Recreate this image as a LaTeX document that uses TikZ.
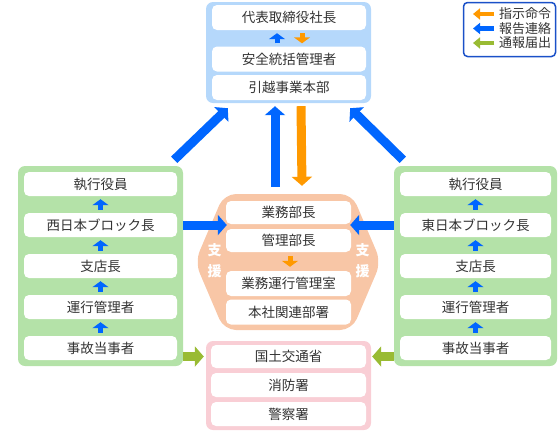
\documentclass[tikz,border=0pt]{standalone}
\usepackage{fontspec}
\setmainfont{Noto Sans CJK JP}
\usetikzlibrary{arrows.meta}
\definecolor{txt}{HTML}{333333}
\definecolor{barBlue}{HTML}{0066FF}
\definecolor{barOrange}{HTML}{FF9900}
\definecolor{barGreen}{HTML}{99BB33}
\definecolor{boxBlue}{HTML}{B5D8FB}
\definecolor{boxGreen}{HTML}{B4E2A8}
\definecolor{boxSalmon}{HTML}{F8C6A6}
\definecolor{boxPink}{HTML}{F9CED5}
\definecolor{legendBorder}{HTML}{1A50C8}
\tikzset{
  inbox/.style={fill=white, rounded corners=5pt, text=txt, inner sep=0pt,
    font=\fontsize{13.5}{15}\selectfont, minimum height=24pt},
  grp/.style={rounded corners=7pt, inner sep=0pt},
  smallarr/.style={line width=5pt, -{Triangle[width=16pt,length=6pt]}},
  bigarr/.style={line width=9pt, -{Triangle[width=20pt,length=9pt]}},
  legarr/.style={line width=4.5pt, -{Triangle[width=11pt,length=7pt]}},
  legtext/.style={anchor=west, inner sep=0pt, text=txt, font=\fontsize{13}{15}\selectfont},
  shien/.style={text=white, font=\bfseries\fontsize{14}{21}\selectfont, align=center, inner sep=0pt},
}
\begin{document}
\begin{tikzpicture}[x=1pt,y=-1pt]
\useasboundingbox (0,0) rectangle (559,432);
% groups
\node[grp, fill=boxBlue, minimum width=165pt, minimum height=101pt] (topgrp) at (288.5,52.5) {};
\node[grp, fill=boxGreen, minimum width=165pt, minimum height=200pt] (leftgrp) at (100.5,266) {};
\node[grp, fill=boxGreen, minimum width=163pt, minimum height=200pt] (rightgrp) at (475.5,266) {};
\node[grp, fill=boxPink, minimum width=165pt, minimum height=89pt] (pinkgrp) at (288.5,385.5) {};
\fill[boxSalmon, rounded corners=12pt] (224,194) -- (352,194) -- (381,262) -- (352,330) -- (224,330) -- (195,262) -- cycle;
\node[minimum width=186pt, minimum height=136pt, inner sep=0pt] (hex) at (288,262) {};
% top
\node[inbox, minimum width=154pt, minimum height=25pt] (ceo) at (289,17.5) {代表取締役社長};
\node[inbox, minimum width=154pt, minimum height=25pt] (anzen) at (289,59) {安全統括管理者};
\node[inbox, minimum width=154pt, minimum height=25pt] (hikkoshi) at (289,87.5) {引越事業本部};
\draw[barBlue, smallarr] ([xshift=-12pt,yshift=3pt]anzen.north) -- ([xshift=-12pt,yshift=-3pt]ceo.south);
\draw[barOrange, smallarr] ([xshift=13pt,yshift=-3pt]ceo.south) -- ([xshift=13pt,yshift=3pt]anzen.north);
% left
\node[inbox, minimum width=153pt] (lexec) at (100.5,184) {執行役員};
\node[inbox, minimum width=153pt] (nishi) at (100.5,225) {西日本ブロック長};
\node[inbox, minimum width=153pt] (lshiten) at (100.5,266) {支店長};
\node[inbox, minimum width=153pt] (lunkou) at (100.5,307) {運行管理者};
\node[inbox, minimum width=153pt] (ljiko) at (100.5,348) {事故当事者};
\foreach \a/\b in {lexec/nishi, nishi/lshiten, lshiten/lunkou, lunkou/ljiko}
  \draw[barBlue, smallarr] ([yshift=3pt]\b.north) -- ([yshift=-3pt]\a.south);
% right
\node[inbox, minimum width=151pt] (rexec) at (475.5,184) {執行役員};
\node[inbox, minimum width=151pt] (higashi) at (475.5,225) {東日本ブロック長};
\node[inbox, minimum width=151pt] (rshiten) at (475.5,266) {支店長};
\node[inbox, minimum width=151pt] (runkou) at (475.5,307) {運行管理者};
\node[inbox, minimum width=151pt] (rjiko) at (475.5,348) {事故当事者};
\foreach \a/\b in {rexec/higashi, higashi/rshiten, rshiten/runkou, runkou/rjiko}
  \draw[barBlue, smallarr] ([yshift=3pt]\b.north) -- ([yshift=-3pt]\a.south);
% middle
\node[inbox, minimum width=125pt, minimum height=23pt] (gyomu) at (288.5,212.5) {業務部長};
\node[inbox, minimum width=125pt, minimum height=23pt] (kanri) at (288.5,240.5) {管理部長};
\node[inbox, minimum width=125pt, minimum height=25pt] (unkoushitsu) at (288.5,283.5) {業務運行管理室};
\node[inbox, minimum width=125pt, minimum height=25pt] (honsha) at (288.5,312) {本社関連部署};
\draw[barOrange, smallarr] ([xshift=1.5pt,yshift=-4pt]kanri.south) -- ([xshift=1.5pt,yshift=4pt]unkoushitsu.north);
\node[shien] (shienL) at (214.5,261) {支\\援};
\node[shien] (shienR) at (362.5,261) {支\\援};
% pink
\node[inbox, minimum width=155pt, minimum height=23pt] (kokudo) at (288.5,356.5) {国土交通省};
\node[inbox, minimum width=155pt, minimum height=24pt] (shobo) at (288.5,385) {消防署};
\node[inbox, minimum width=155pt, minimum height=24pt] (keisatsu) at (288.5,414) {警察署};
% big arrows
\draw[barBlue, bigarr] ([xshift=-9pt,yshift=6pt]leftgrp.north east) -- ([xshift=22pt,yshift=-5pt]topgrp.south west);
\draw[barBlue, bigarr] ([xshift=9pt,yshift=6pt]rightgrp.north west) -- ([xshift=-21pt,yshift=-5pt]topgrp.south east);
\draw[barBlue, bigarr] ([xshift=-13pt,yshift=7pt]hex.north) -- ([xshift=-13.5pt,yshift=-3pt]topgrp.south);
\draw[barOrange, bigarr] ([xshift=12.5pt,yshift=-3pt]topgrp.south) -- ([xshift=14pt,yshift=8pt]hex.north);
\draw[barBlue, bigarr] (leftgrp.east |- nishi) -- ([xshift=1pt]gyomu.west |- nishi);
\draw[barBlue, bigarr] (rightgrp.west |- higashi) -- ([xshift=-1pt]gyomu.east |- higashi);
\draw[barGreen, bigarr, shorten >=2pt] (leftgrp.east |- kokudo) -- (pinkgrp.west |- kokudo);
\draw[barGreen, bigarr, shorten >=1pt] (rightgrp.west |- kokudo) -- (pinkgrp.east |- kokudo);
% legend
\node[draw=legendBorder, line width=1.5pt, rounded corners=4pt, fill=white, minimum width=92pt, minimum height=54pt, inner sep=0pt] (legend) at (509.5,29.5) {};
\node[legtext] (l1) at (499,14) {指示命令};
\node[legtext] (l2) at (499,28.5) {報告連絡};
\node[legtext] (l3) at (499,43) {通報届出};
\coordinate (la1) at (473,14); \coordinate (la2) at (473,28.5); \coordinate (la3) at (473,43);
\draw[barOrange, legarr] ([xshift=-5pt]l1.west) -- (la1);
\draw[barBlue, legarr] ([xshift=-5pt]l2.west) -- (la2);
\draw[barGreen, legarr] ([xshift=-5pt]l3.west) -- (la3);
\end{tikzpicture}
\end{document}
